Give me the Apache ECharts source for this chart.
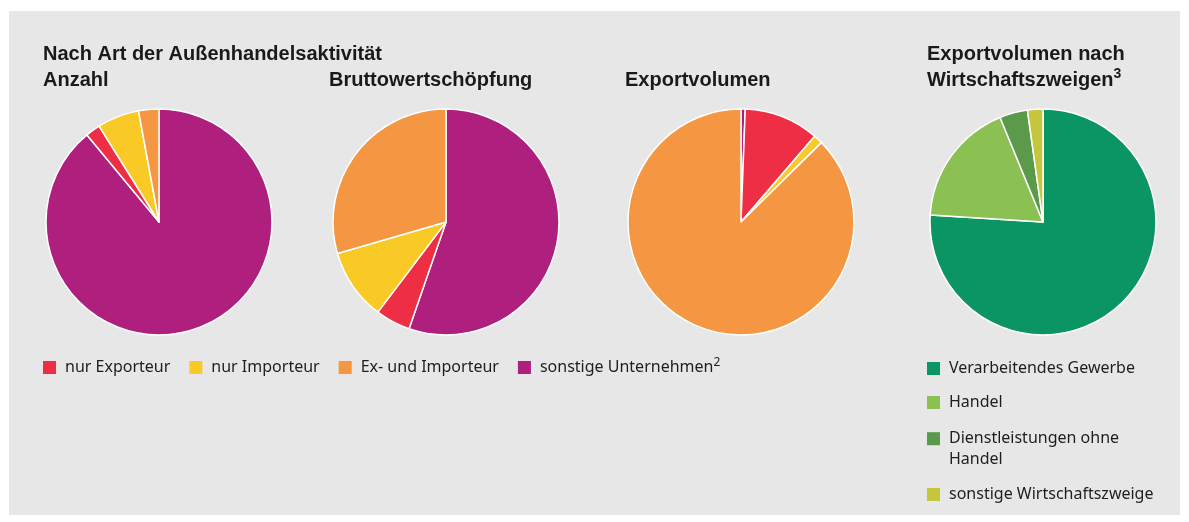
<!DOCTYPE html>
<html>
<head>
<meta charset="utf-8">
<script src="https://cdn.jsdelivr.net/npm/echarts@6/dist/echarts.min.js"></script>
<style>
  html, body { margin: 0; padding: 0; background: #fff; }
  #chart { width: 1189px; height: 522px; }
</style>
</head>
<body>
<div id="chart"></div>
<script>
// categories of the three activity pies (legend order)
var activityTypes = ['nur Exporteur', 'nur Importeur', 'Ex- und Importeur', 'sonstige Unternehmen'];
var activityColors = ['#ee2e44', '#f9ca25', '#f49642', '#ae1f7e'];
// shares in %, same order as activityTypes
var anzahl = [2.1, 6.0, 2.9, 89.0];
var bruttowertschoepfung = [5.0, 10.2, 29.5, 55.3];
var exportvolumen = [10.7, 1.3, 87.4, 0.6];
// slices are drawn clockwise from 12 o'clock starting with "sonstige"
var drawOrder = [3, 0, 1, 2];

// export volume by economic sector
var sectors = ['Verarbeitendes Gewerbe', 'Handel', 'Dienstleistungen ohne Handel', 'sonstige Wirtschaftszweige'];
var sectorColors = ['#0a9562', '#8bc153', '#5a9a4a', '#c6c63c'];
var sectorShares = [76.0, 17.8, 4.0, 2.2];

var chart = echarts.init(document.getElementById('chart'));

function activityData(values) {
  return drawOrder.map(function (i) {
    return { name: activityTypes[i], value: values[i], itemStyle: { color: activityColors[i] } };
  });
}

function pie(center, data) {
  return {
    type: 'pie',
    center: center,
    radius: 113,
    startAngle: 90,
    clockwise: true,
    animation: false,
    label: { show: false },
    labelLine: { show: false },
    emphasis: { scale: false },
    itemStyle: { borderColor: '#ffffff', borderWidth: 1.5 },
    data: data
  };
}

var titleStyle = {
  fontFamily: 'Liberation Sans',
  fontWeight: 'bold',
  fontSize: 20,
  lineHeight: 26,
  color: '#1a1a1a',
  rich: {
    sup: { fontFamily: 'Liberation Sans', fontSize: 14, verticalAlign: 'top', lineHeight: 20, color: '#1a1a1a' }
  }
};

var legendText = {
  fontFamily: 'Noto Sans',
  fontSize: 16,
  color: '#1e1e1e',
  lineHeight: 22,
  padding: [0, 0, 0, 4],
  rich: {
    sup: { fontFamily: 'Noto Sans', fontSize: 12, verticalAlign: 'top', lineHeight: 16, color: '#1e1e1e' }
  }
};

var legendBase = {
  icon: 'rect',
  itemWidth: 13,
  itemHeight: 13,
  padding: 0,
  selectedMode: false,
  itemStyle: { borderWidth: 0 },
  textStyle: legendText
};

var option = {
  backgroundColor: '#ffffff',
  graphic: [{
    type: 'rect',
    z: -10,
    shape: { x: 9, y: 11, width: 1171, height: 504 },
    style: { fill: '#e7e7e7' }
  }],
  title: [
    { text: 'Nach Art der Außenhandelsaktivität\nAnzahl', left: 43, top: 41, padding: 0, textStyle: titleStyle },
    { text: 'Bruttowertschöpfung', left: 329, top: 67, padding: 0, textStyle: titleStyle },
    { text: 'Exportvolumen', left: 625, top: 67, padding: 0, textStyle: titleStyle },
    { text: 'Exportvolumen nach\nWirtschaftszweigen{sup|3}', left: 927, top: 41, padding: 0, textStyle: titleStyle }
  ],
  legend: [
    Object.assign({}, legendBase, {
      orient: 'horizontal',
      left: 43,
      top: 356.5,
      itemGap: 19,
      data: activityTypes,
      formatter: function (name) {
        return name === 'sonstige Unternehmen' ? name + '{sup|2}' : name;
      }
    }),
    Object.assign({}, legendBase, {
      orient: 'vertical',
      left: 927,
      top: 357.5,
      itemGap: 12,
      data: sectors.slice(0, 2)
    }),
    Object.assign({}, legendBase, {
      orient: 'vertical',
      left: 927,
      top: 407.2,
      data: [sectors[2]],
      textStyle: Object.assign({}, legendText, { lineHeight: 21 }),
      formatter: function () { return '\nDienstleistungen ohne\nHandel'; }
    }),
    Object.assign({}, legendBase, {
      orient: 'vertical',
      left: 927,
      top: 483.5,
      data: [sectors[3]]
    })
  ],
  series: [
    pie([159, 222], activityData(anzahl)),
    pie([446, 222], activityData(bruttowertschoepfung)),
    pie([741, 222], activityData(exportvolumen)),
    pie([1043, 222], sectors.map(function (s, i) {
      return { name: s, value: sectorShares[i], itemStyle: { color: sectorColors[i] } };
    }))
  ]
};

chart.setOption(option);
</script>
</body>
</html>
